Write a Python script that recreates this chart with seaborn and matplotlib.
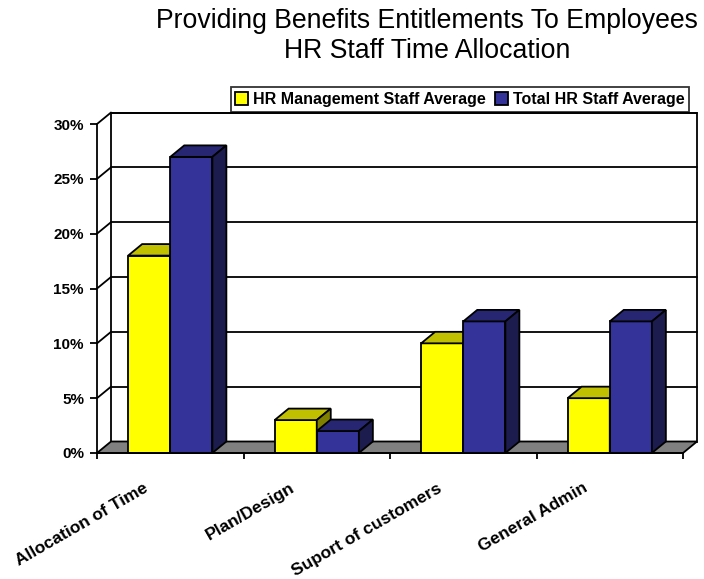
import numpy as np
import pandas as pd
import matplotlib
matplotlib.use("Agg")
import matplotlib.pyplot as plt
from matplotlib.patches import Polygon, Rectangle, Patch
from matplotlib.lines import Line2D
from matplotlib.transforms import ScaledTranslation
import seaborn as sns

# ---- data -------------------------------------------------------------
tasks = ["Allocation of Time", "Plan/Design", "Suport of customers", "General Admin"]
series = ["HR Management Staff Average", "Total HR Staff Average"]
mgmt_avg = [0.18, 0.03, 0.10, 0.05]
total_avg = [0.27, 0.02, 0.12, 0.12]
y_ticks = [0.0, 0.05, 0.10, 0.15, 0.20, 0.25, 0.30]
y_tick_labels = ["0%", "5%", "10%", "15%", "20%", "25%", "30%"]

title_lines = ["Providing Benefits Entitlements To Employees", "HR Staff Time Allocation"]

# ---- styling ----------------------------------------------------------
front_colors = ["#FFFF00", "#333399"]
top_colors = ["#C0C000", "#262673"]
side_colors = ["#808000", "#1C1C4E"]
floor_color = "#808080"
lw = 1.3

sns.set_style("white")
plt.rcParams["font.family"] = ["Liberation Sans", "DejaVu Sans"]
plt.rcParams["text.color"] = "black"
plt.rcParams["xtick.color"] = "black"
plt.rcParams["ytick.color"] = "black"
plt.rcParams["axes.labelcolor"] = "black"

df = pd.DataFrame({
    "task": tasks * 2,
    "share": mgmt_avg + total_avg,
    "group": [series[0]] * len(tasks) + [series[1]] * len(tasks),
})

W, H, DPI = 704, 579, 100
PX = 72 / DPI  # points per pixel
fig = plt.figure(figsize=(W / DPI, H / DPI), dpi=DPI)
# front plane of the 3-D box, in pixels
left_px, right_px, top_px, bottom_px = 97, 683, 124, 453
ax = fig.add_axes([left_px / W, 1 - bottom_px / H,
                   (right_px - left_px) / W, (bottom_px - top_px) / H])

sns.barplot(data=df, x="task", y="share", hue="group", order=tasks,
            hue_order=series, palette=front_colors, saturation=1,
            width=0.575, edgecolor="black", linewidth=lw, legend=False, ax=ax)

# bars with their series index, ordered left to right
bars = []
for s_idx, container in enumerate(ax.containers):
    for bar in container:
        bars.append((bar.get_x(), s_idx, bar))
bars.sort(key=lambda t: t[0])

ymax = 0.30
ax.set_xlim(-0.5, len(tasks) - 0.5)
ax.set_ylim(0, ymax)

# depth offset of the box (pixels) expressed in data units
depth_dx_px, depth_dy_px = 14, 11.5
x_per_px = len(tasks) / (right_px - left_px)
y_per_px = ymax / (bottom_px - top_px)
ddx = depth_dx_px * x_per_px
ddy = depth_dy_px * y_per_px
x0, x1 = -0.5, len(tasks) - 0.5

# back wall with gridlines
ax.add_patch(Rectangle((x0 + ddx, ddy), x1 - x0, ymax, facecolor="white",
                       edgecolor="black", linewidth=lw, zorder=0.5, clip_on=False))
for t in y_ticks[1:]:
    ax.add_line(Line2D([x0 + ddx, x1 + ddx], [t + ddy, t + ddy], color="black",
                       linewidth=lw, zorder=0.6, clip_on=False))
    # left side-wall connectors
    ax.add_line(Line2D([x0, x0 + ddx], [t, t + ddy], color="black",
                       linewidth=lw, zorder=0.6, clip_on=False))
# floor
ax.add_patch(Polygon([(x0, 0), (x1, 0), (x1 + ddx, ddy), (x0 + ddx, ddy)],
                     closed=True, facecolor=floor_color, edgecolor="black",
                     linewidth=lw, zorder=0.7, clip_on=False))

# extrude each bar into a box: top and right faces
for i, (bx, idx, bar) in enumerate(bars):
    bw, bh = bar.get_width(), bar.get_height()
    z = 2 + i * 0.01
    bar.set_zorder(z)
    bar.set_clip_on(False)
    top = Polygon([(bx, bh), (bx + bw, bh), (bx + bw + ddx, bh + ddy), (bx + ddx, bh + ddy)],
                  closed=True, facecolor=top_colors[idx], edgecolor="black",
                  linewidth=lw, zorder=z + 0.005, clip_on=False)
    side = Polygon([(bx + bw, 0), (bx + bw + ddx, ddy), (bx + bw + ddx, bh + ddy), (bx + bw, bh)],
                   closed=True, facecolor=side_colors[idx], edgecolor="black",
                   linewidth=lw, zorder=z + 0.005, clip_on=False)
    ax.add_patch(top)
    ax.add_patch(side)

# axes frame: only the front left and bottom edges
for s in ["top", "right"]:
    ax.spines[s].set_visible(False)
for s in ["left", "bottom"]:
    ax.spines[s].set_linewidth(lw)
    ax.spines[s].set_color("black")
    ax.spines[s].set_zorder(3)

ax.set_yticks(y_ticks)
ax.set_yticklabels(y_tick_labels, fontsize=11, fontweight="bold", color="black")
ax.tick_params(axis="y", direction="out", length=7 * PX, width=lw, pad=6 * PX, left=True)

ax.set_xticks(np.arange(len(tasks) + 1) - 0.5)
ax.set_xticklabels([])
ax.tick_params(axis="x", which="major", direction="out", length=6 * PX, width=lw, bottom=True)
ax.set_xticks(np.arange(len(tasks)), minor=True)
ax.set_xticklabels(tasks, minor=True, rotation=30, ha="right", va="center",
                   rotation_mode="anchor", fontsize=12.5, fontweight="bold", color="black")
ax.tick_params(axis="x", which="minor", length=0, pad=34 * PX)
for lab in ax.get_xticklabels(minor=True):
    lab.set_transform(lab.get_transform() + ScaledTranslation(-23 / DPI, 0, fig.dpi_scale_trans))
ax.set_xlabel("")
ax.set_ylabel("")

# legend
handles = [Patch(facecolor=c, edgecolor="black", linewidth=lw) for c in front_colors]
leg = ax.legend(handles, series, ncol=2, loc="center",
                bbox_to_anchor=((232 + 688) / 2 / W, 1 - 99.5 / H),
                bbox_transform=fig.transFigure, frameon=True, fancybox=False,
                prop={"size": 11.5, "weight": "bold"}, handlelength=0.8,
                handleheight=0.8, handletextpad=0.3, columnspacing=0.6,
                borderpad=0.3, borderaxespad=0)
leg.get_frame().set_edgecolor("black")
leg.get_frame().set_linewidth(lw)
leg.set_zorder(10)
for txt in leg.get_texts():
    txt.set_color("black")

# two-line title
cx = 427 / W
fig.text(cx, 1 - 28 / H, title_lines[0], ha="center", va="baseline", fontsize=19.2, color="black")
fig.text(cx, 1 - 58 / H, title_lines[1], ha="center", va="baseline", fontsize=19.2, color="black")

fig.savefig("out.png", dpi=DPI)
